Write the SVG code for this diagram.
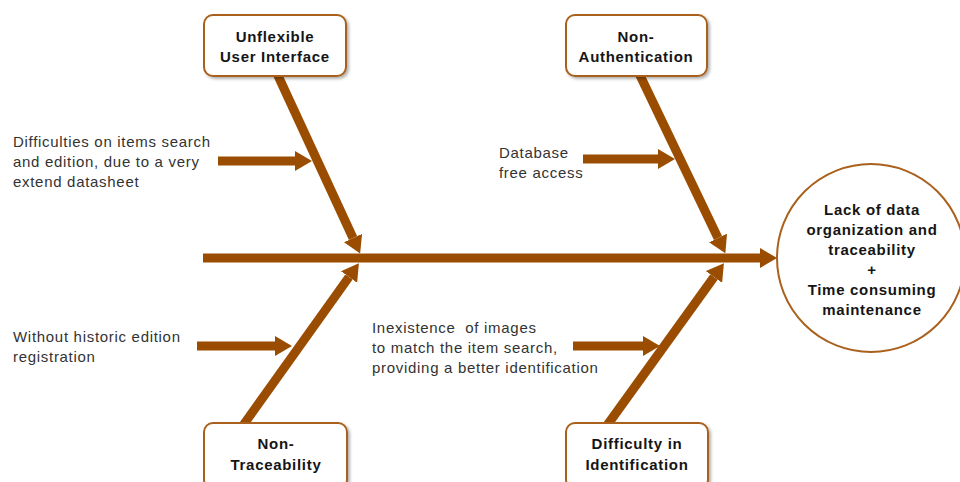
<svg xmlns="http://www.w3.org/2000/svg" width="960" height="482" viewBox="0 0 960 482">
  <style>
    .bone { stroke: #9A4D00; stroke-width: 9; fill: none; }
    .box { fill: #ffffff; stroke: #A9611D; stroke-width: 2; filter: url(#shadow); }
    .head { font-family: "Liberation Sans", Arial, sans-serif; font-size: 15px; font-weight: bold; fill: #151515; text-anchor: middle; letter-spacing: 0.7px; }
    .note { font-family: "Liberation Sans", Arial, sans-serif; font-size: 15px; fill: #333333; letter-spacing: 0.7px; }
  </style>
  <defs>
    <marker id="arrow" markerUnits="userSpaceOnUse" markerWidth="17" markerHeight="20" refX="0" refY="10" orient="auto" viewBox="0 0 17 20">
      <path d="M0,0 L17,10 L0,20 Z" fill="#9A4D00"/>
    </marker>
    <filter id="shadow" x="-10%" y="-10%" width="125%" height="130%">
      <feDropShadow dx="2" dy="2" stdDeviation="1.5" flood-color="#000000" flood-opacity="0.3"/>
    </filter>
  </defs>

  <rect width="960" height="482" fill="#ffffff"/>

  <!-- connectors: spine, main bones and sub-cause arrows -->
  <g id="connectors">
    <line class="bone" x1="203" y1="258" x2="760" y2="258" marker-end="url(#arrow)"/>
    <line class="bone" x1="274" y1="67" x2="353" y2="238" marker-end="url(#arrow)"/>
    <line class="bone" x1="636" y1="67" x2="718" y2="238" marker-end="url(#arrow)"/>
    <line class="bone" x1="239" y1="431" x2="349" y2="277" marker-end="url(#arrow)"/>
    <line class="bone" x1="603" y1="431" x2="714" y2="277" marker-end="url(#arrow)"/>
    <line class="bone" x1="218" y1="161" x2="295" y2="161" marker-end="url(#arrow)"/>
    <line class="bone" x1="583" y1="159" x2="658" y2="159" marker-end="url(#arrow)"/>
    <line class="bone" x1="197" y1="346" x2="275" y2="346" marker-end="url(#arrow)"/>
    <line class="bone" x1="573" y1="346" x2="643" y2="346" marker-end="url(#arrow)"/>
  </g>

  <g id="unflexible-ui">
    <rect class="box" x="204" y="15" width="142" height="61" rx="9"/>
    <text class="head" x="275" y="42">Unflexible</text>
    <text class="head" x="275" y="62">User Interface</text>
  </g>

  <g id="non-authentication">
    <rect class="box" x="566" y="15" width="141" height="61" rx="9"/>
    <text class="head" x="636" y="42">Non-</text>
    <text class="head" x="636" y="62">Authentication</text>
  </g>

  <g id="non-traceability">
    <rect class="box" x="204" y="423" width="143" height="66" rx="9"/>
    <text class="head" x="276" y="449">Non-</text>
    <text class="head" x="276" y="470">Traceability</text>
  </g>

  <g id="difficulty-identification">
    <rect class="box" x="566" y="423" width="142" height="66" rx="9"/>
    <text class="head" x="637" y="449">Difficulty in</text>
    <text class="head" x="637" y="470">Identification</text>
  </g>

  <g id="effect">
    <circle cx="871" cy="258" r="94" fill="#ffffff" stroke="#A9611D" stroke-width="2"/>
    <text class="head" x="872" y="215">Lack of data</text>
    <text class="head" x="872" y="235">organization and</text>
    <text class="head" x="872" y="255">traceability</text>
    <text class="head" x="872" y="275">+</text>
    <text class="head" x="872" y="295">Time consuming</text>
    <text class="head" x="872" y="315">maintenance</text>
  </g>

  <g id="cause-search">
    <text class="note" x="13" y="147">Difficulties on items search</text>
    <text class="note" x="13" y="167">and edition, due to a very</text>
    <text class="note" x="13" y="187">extend datasheet</text>
  </g>

  <g id="cause-database">
    <text class="note" x="499" y="158">Database</text>
    <text class="note" x="499" y="178">free access</text>
  </g>

  <g id="cause-history">
    <text class="note" x="13" y="342">Without historic edition</text>
    <text class="note" x="13" y="362">registration</text>
  </g>

  <g id="cause-images">
    <text class="note" x="372" y="333" xml:space="preserve">Inexistence  of images</text>
    <text class="note" x="372" y="353">to match the item search,</text>
    <text class="note" x="372" y="373">providing a better identification</text>
  </g>
</svg>
